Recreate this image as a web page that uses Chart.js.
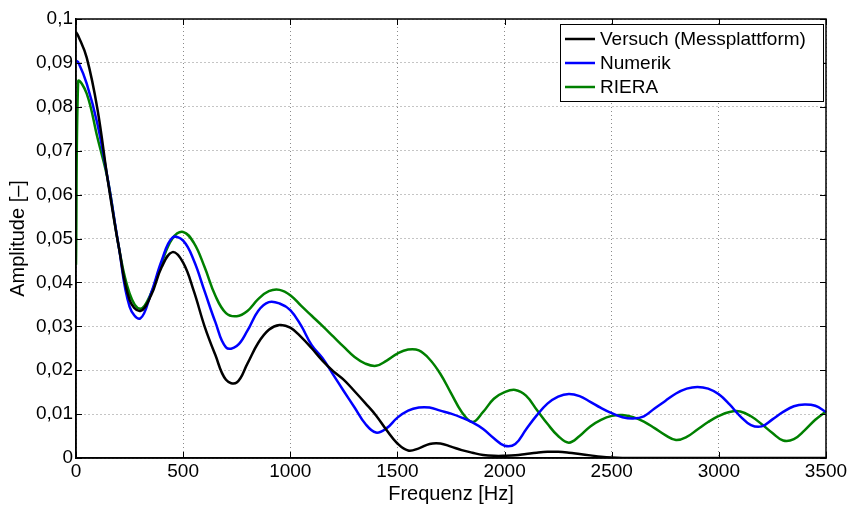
<!DOCTYPE html>
<html lang="de">
<head>
    <meta charset="UTF-8">
    <title>Amplitude</title>
    <script src="https://cdn.jsdelivr.net/npm/chart.js"></script>
<style>
    body{
        margin:0;
        background:white;
    }
    #wrap{
        width:851px;
        height:506px;
    }
</style>
</head>
<body>
    <div id="wrap"><canvas id="ampChart" width="851" height="506"></canvas></div>
<script>
    // Frequenzen [Hz]
    const freq=[0,10,50,100,150,200,250,300,350,400,450,500,550,600,650,700,750,800,850,900,950,
        1000,1050,1100,1150,1200,1250,1300,1350,1400,1450,1500,1550,1600,1650,1700,1750,1800,1850,1900,1950,
        2000,2050,2100,2150,2200,2250,2300,2350,2400,2450,2500,2550,2600,2650,2700,2750,2800,2850,2900,2950,
        3000,3050,3100,3150,3200,3250,3300,3350,3400,3450,3500]

    const versuch=[0.097,0.0962,0.0912,0.0795,0.0627,0.048,0.036,0.0335,0.037,0.0435,0.0469,0.0445,0.038,0.030,0.0235,0.0178,0.0172,0.0215,0.0262,0.0292,0.0303,
        0.0297,0.0276,0.025,0.0222,0.0198,0.0178,0.0152,0.0125,0.0097,0.0063,0.0033,0.0017,0.0022,0.0032,0.0033,0.0026,0.0018,0.0012,0.0007,0.0005,
        0.0005,0.0006,0.0009,0.0012,0.0014,0.0014,0.0012,0.0009,0.0006,0.0003,0.0001,0,0,0,0,0,0,0,0,0,
        0,0,0,0,0,0,0,0,0,0,0]

    const numerik=[0.0905,0.0902,0.0853,0.0761,0.063,0.048,0.0345,0.0318,0.0375,0.045,0.0502,0.0495,0.045,0.038,0.031,0.0252,0.0255,0.029,0.0335,0.0355,0.0352,
        0.0337,0.0302,0.0257,0.0228,0.019,0.0152,0.0115,0.0078,0.0058,0.0068,0.0092,0.0108,0.0115,0.0115,0.0108,0.0101,0.0092,0.0081,0.0066,0.0045,
        0.0028,0.0032,0.0065,0.0097,0.0124,0.014,0.0146,0.0141,0.0128,0.0114,0.0102,0.0093,0.009,0.0095,0.0113,0.013,0.0147,0.0158,0.0162,0.0158,
        0.0145,0.0122,0.0095,0.0075,0.0072,0.0088,0.0105,0.0118,0.0122,0.0119,0.0105]

    const riera=[0.044,0.0857,0.083,0.073,0.063,0.048,0.0375,0.034,0.0375,0.0445,0.050,0.0515,0.049,0.0435,0.037,0.033,0.0323,0.0335,0.0362,0.038,0.0383,
        0.0371,0.0347,0.0324,0.0301,0.0277,0.0253,0.023,0.0215,0.021,0.0222,0.0238,0.0247,0.0245,0.0225,0.0192,0.0148,0.0105,0.0082,0.0105,0.0135,
        0.015,0.0155,0.0142,0.011,0.0078,0.005,0.0035,0.005,0.0072,0.0087,0.0096,0.0098,0.0093,0.0083,0.0068,0.0052,0.0041,0.0048,0.0065,0.0082,
        0.0096,0.0105,0.0106,0.0095,0.0077,0.0057,0.004,0.0043,0.0063,0.0087,0.0106]

    const seriesNames=["Versuch (Messplattform)","Numerik","RIERA"]
    const seriesColors=["#000000","#0000ff","#008000"]
    const yTickLabels=["0","0,01","0,02","0,03","0,04","0,05","0,06","0,07","0,08","0,09","0,1"]

    const fontName="'Liberation Sans', Arial, Helvetica, sans-serif"

    function pts(values){
        return freq.map((f,i)=>({x:f,y:values[i]}))
    }

    // Rahmen, Ticks nach innen und Legende im Diagramm
    const rahmenPlugin={
        id:"rahmen",
        afterDraw(chart){
            const ctx=chart.ctx
            const a=chart.chartArea
            const xs=chart.scales.x
            const ys=chart.scales.y
            ctx.save()
            ctx.strokeStyle="#000"
            ctx.lineWidth=1.5
            ctx.strokeRect(a.left,a.top,a.right-a.left,a.bottom-a.top)
            ctx.lineWidth=1
            ctx.beginPath()
            xs.ticks.forEach(t=>{
                const px=Math.round(xs.getPixelForValue(t.value))+0.5
                ctx.moveTo(px,a.bottom);ctx.lineTo(px,a.bottom-6)
                ctx.moveTo(px,a.top);ctx.lineTo(px,a.top+6)
            })
            ys.ticks.forEach(t=>{
                const py=Math.round(ys.getPixelForValue(t.value))+0.5
                ctx.moveTo(a.left,py);ctx.lineTo(a.left+6,py)
                ctx.moveTo(a.right,py);ctx.lineTo(a.right-6,py)
            })
            ctx.stroke()

            // Legende
            const bw=263,bh=77
            const bx=a.right-3-bw,by=a.top+5
            ctx.fillStyle="#fff"
            ctx.fillRect(bx,by,bw,bh)
            ctx.strokeStyle="#000"
            ctx.lineWidth=1
            ctx.strokeRect(bx+0.5,by+0.5,bw,bh)
            ctx.font="19px "+fontName
            ctx.textBaseline="middle"
            seriesNames.forEach((name,i)=>{
                const ly=by+15+i*24
                ctx.strokeStyle=seriesColors[i]
                ctx.lineWidth=2.5
                ctx.beginPath()
                ctx.moveTo(bx+5,ly);ctx.lineTo(bx+35,ly)
                ctx.stroke()
                ctx.fillStyle="#000"
                ctx.fillText(name,bx+40,ly+1)
            })
            ctx.restore()
        }
    }

    const ctx=document.getElementById("ampChart").getContext("2d")
    new Chart(ctx,{
        type:"line",
        data:{
            datasets:[versuch,numerik,riera].map((v,i)=>({
                label:seriesNames[i],
                data:pts(v),
                borderColor:seriesColors[i],
                borderWidth:2.5,
                pointRadius:0,
                fill:false,
                tension:0.4
            }))
        },
        options:{
            responsive:false,
            animation:false,
            layout:{padding:{top:19,right:25,left:0,bottom:0}},
            plugins:{
                legend:{display:false},
                tooltip:{enabled:false}
            },
            scales:{
                x:{
                    type:"linear",
                    min:0,
                    max:3500,
                    ticks:{
                        stepSize:500,
                        color:"#000",
                        font:{family:fontName,size:19},
                        padding:2,
                        maxRotation:0,
                        callback:v=>String(v)
                    },
                    grid:{
                        color:"#8a8a8a",
                        lineWidth:1,
                        drawTicks:false
                    },
                    border:{display:true,color:"#000",width:1.5,dash:[1,3]},
                    title:{
                        display:true,
                        text:"Frequenz [Hz]",
                        color:"#000",
                        font:{family:fontName,size:20},
                        padding:{top:0,bottom:0}
                    },
                    afterFit(s){s.height=48}
                },
                y:{
                    min:0,
                    max:0.1,
                    ticks:{
                        stepSize:0.01,
                        color:"#000",
                        font:{family:fontName,size:19},
                        padding:3,
                        callback:(v,i)=>yTickLabels[i]
                    },
                    grid:{
                        color:"#8a8a8a",
                        lineWidth:1,
                        drawTicks:false
                    },
                    border:{display:true,color:"#000",width:1.5,dash:[1,3]},
                    title:{
                        display:true,
                        text:"Amplitude [\u2013]",
                        color:"#000",
                        font:{family:fontName,size:20},
                        padding:{top:6,bottom:0}
                    },
                    afterFit(s){s.width=76}
                }
            }
        },
        plugins:[rahmenPlugin]
    })
</script>
</body>
</html>
